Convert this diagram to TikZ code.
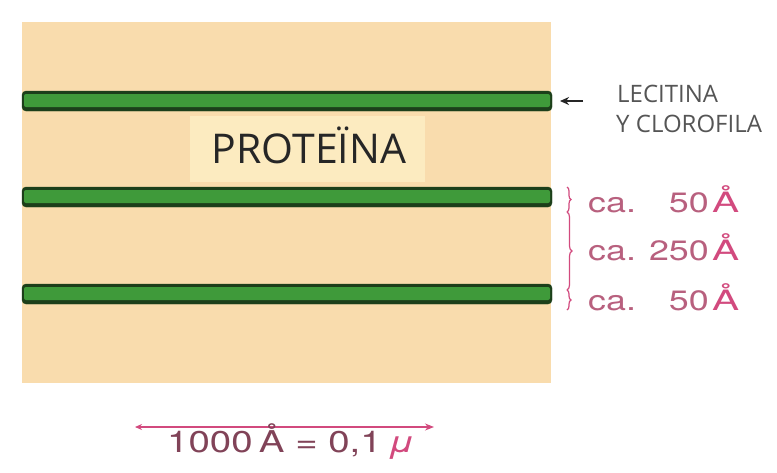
\documentclass[tikz,border=0pt]{standalone}
\usepackage{graphicx}
\usepackage{fontspec}
\setmainfont{Open Sans}
\newfontfamily\labfont{TeX Gyre Heros}
\usetikzlibrary{decorations.pathreplacing,arrows.meta}
\definecolor{tan}{HTML}{F9DCAD}
\definecolor{palebox}{HTML}{FCEBC0}
\definecolor{bandgreen}{HTML}{3F9A3A}
\definecolor{banddark}{HTML}{1C3F1A}
\definecolor{pinklab}{HTML}{D24A7E}
\definecolor{pinkgray}{HTML}{B8607E}
\definecolor{graylab}{HTML}{555555}
\tikzset{
  band/.style={fill=banddark, draw=banddark, rounded corners=4pt},
  bandcore/.style={fill=bandgreen, draw=none, rounded corners=2pt},
  pinktext/.style={text=pinkgray, font=\labfont\fontsize{28}{28}\selectfont, inner sep=0pt},
}
\newcommand{\widetxt}[1]{\scalebox{1.28}[1]{#1}}
\begin{document}
\begin{tikzpicture}[x=1pt,y=-1pt]
\useasboundingbox (0,0) rectangle (777,472);
\fill[white] (0,0) rectangle (777,472);
% background block
\fill[tan] (22,22) rectangle (551,383);
\fill[palebox] (190,116) rectangle (425,182);
\node[text=black!85, font=\fontsize{41}{41}\selectfont, inner sep=0pt, anchor=base] (prot) at (309,163) {PROTEÏNA};
% green bands
\foreach \y/\n in {101/b1,197/b2,294/b3}{
  \draw[band] (22,\y-10) rectangle (552,\y+10);
  \fill[bandcore] (24,\y-7) rectangle (550,\y+6);
  \coordinate (\n) at (552,\y);
}
% lecithin label
\node[anchor=base west, font=\fontsize{24}{30}\selectfont, text=graylab, inner sep=0pt] (lec1) at (617,102) {LECITINA};
\node[anchor=base west, font=\fontsize{24}{30}\selectfont, text=graylab, inner sep=0pt] (lec2) at (616,132) {Y CLOROFILA};
\coordinate (arrtail) at (583,101);
\draw[-{Stealth[length=9pt,width=8pt]}, line width=1.8pt, black!85] (arrtail) -- (560,101);
% thickness labels
\foreach \yb/\num/\n in {212/50/a,260/250/b,310/50/c}{
  \node[pinktext, anchor=base west] (ca\n) at (588,\yb) {\widetxt{ca.}};
  \node[pinktext, anchor=base east] (num\n) at (709,\yb) {\widetxt{\num}};
  \node[pinktext, anchor=base west, text=pinklab] (ang\n) at (712,\yb) {\scalebox{1.45}[1]{Å}};
}
\coordinate (br1a) at (567,187);
\coordinate (br1b) at (567,212);
\coordinate (br2b) at (567,290);
\coordinate (br3b) at (567,310);
\draw[pinklab, line width=1.2pt, decorate, decoration={brace, amplitude=4pt}] (br1a) -- (br1b);
\draw[pinklab, line width=1.2pt, decorate, decoration={brace, amplitude=5pt}] (br1b) -- (br2b);
\draw[pinklab, line width=1.2pt, decorate, decoration={brace, amplitude=4pt}] (br2b) -- (br3b);
% scale bar
\coordinate (sl) at (135,427);
\coordinate (sr) at (434,427);
\draw[pinklab, line width=1.1pt, {Stealth[length=7pt,width=6pt]}-{Stealth[length=9pt,width=7pt]}] (sl) -- (sr);
\node[text=pinkgray!70!black, font=\labfont\fontsize{30}{30}\selectfont, inner sep=0pt, anchor=base west] (scale) at (167,452) {\widetxt{1000\,Å = 0,1\,\textcolor{pinklab}{\textit{μ}}}};
\end{tikzpicture}
\end{document}
